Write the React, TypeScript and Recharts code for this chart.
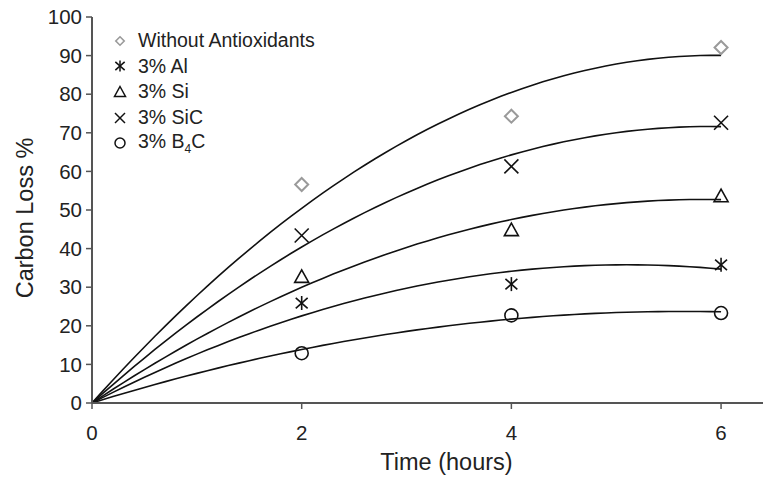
import React from 'react';
import { ComposedChart, Line, Scatter, XAxis, YAxis, Legend, Label } from 'recharts';

// measured points (time in hours, carbon loss %)
const hours = [2, 4, 6];
const withoutAntioxidants = [56.6, 74.3, 92.1];
const al3 = [25.9, 30.8, 35.8];
const si3 = [32.7, 44.8, 53.6];
const sic3 = [43.4, 61.3, 72.6];
const b4c3 = [12.9, 22.7, 23.3];

const xTicks = [0, 2, 4, 6];
const yTicks = [0, 10, 20, 30, 40, 50, 60, 70, 80, 90, 100];

const FONT = '"Liberation Sans", Arial, Helvetica, sans-serif';
const AXIS = '#555';

// trendline: least squares y = a*t + b*t^2, forced through the origin
const fitThroughOrigin = (ts: number[], ys: number[]) => {
  let s2 = 0, s3 = 0, s4 = 0, sy1 = 0, sy2 = 0;
  ts.forEach((t, i) => {
    s2 += t * t;
    s3 += t * t * t;
    s4 += t * t * t * t;
    sy1 += t * ys[i];
    sy2 += t * t * ys[i];
  });
  const det = s2 * s4 - s3 * s3;
  const a = (sy1 * s4 - s3 * sy2) / det;
  const b = (s2 * sy2 - s3 * sy1) / det;
  return { a, b };
};

const trend = (values: number[]) => {
  const { a, b } = fitThroughOrigin(hours, values);
  const last = hours[hours.length - 1];
  return Array.from({ length: 61 }, (_, i) => {
    const t = (last * i) / 60;
    return { t, v: a * t + b * t * t };
  });
};

const points = (values: number[]) => hours.map((t, i) => ({ t, v: values[i] }));

// marker shapes
const Diamond = ({ cx, cy, r = 6.5, sw = 2 }: any) => (
  <path d={`M${cx},${cy - r}L${cx + r},${cy}L${cx},${cy + r}L${cx - r},${cy}Z`} fill="none" stroke="#9a9a9a" strokeWidth={sw} />
);
const Star = ({ cx, cy, r = 7, sw = 1.6 }: any) => (
  <g stroke="#111" strokeWidth={sw}>
    <line x1={cx} y1={cy - r} x2={cx} y2={cy + r} />
    <line x1={cx - r * 0.85} y1={cy - r * 0.75} x2={cx + r * 0.85} y2={cy + r * 0.75} />
    <line x1={cx - r * 0.85} y1={cy + r * 0.75} x2={cx + r * 0.85} y2={cy - r * 0.75} />
  </g>
);
const Triangle = ({ cx, cy, r = 7, sw = 1.6 }: any) => (
  <path d={`M${cx},${cy - r}L${cx + r},${cy + r * 0.8}L${cx - r},${cy + r * 0.8}Z`} fill="none" stroke="#111" strokeWidth={sw} />
);
const Cross = ({ cx, cy, r = 7, sw = 1.6 }: any) => (
  <g stroke="#111" strokeWidth={sw}>
    <line x1={cx - r} y1={cy - r} x2={cx + r} y2={cy + r} />
    <line x1={cx - r} y1={cy + r} x2={cx + r} y2={cy - r} />
  </g>
);
const Ring = ({ cx, cy, r = 6.5, sw = 1.6 }: any) => (
  <circle cx={cx} cy={cy} r={r} fill="none" stroke="#111" strokeWidth={sw} />
);

const series = [
  { key: 'none', label: 'Without Antioxidants', values: withoutAntioxidants, Shape: Diamond, lr: 4.2 },
  { key: 'al', label: '3% Al', values: al3, Shape: Star, lr: 5.5 },
  { key: 'si', label: '3% Si', values: si3, Shape: Triangle, lr: 5.5 },
  { key: 'sic', label: '3% SiC', values: sic3, Shape: Cross, lr: 5 },
  { key: 'b4c', label: '3% B4C', values: b4c3, Shape: Ring, lr: 5 },
];

const renderLegend = () => (
  <div style={{ fontFamily: FONT, fontSize: 19.5, color: '#222' }}>
    {series.map(({ key, label, Shape, lr }) => (
      <div key={key} style={{ display: 'flex', alignItems: 'center', height: 25.6 }}>
        <svg width={24} height={20} style={{ marginRight: 6 }}>
          <Shape cx={12} cy={10} r={lr} sw={key === 'none' ? 1.6 : 1.5} />
        </svg>
        {key === 'b4c' ? (
          <span>
            3% B<sub style={{ fontSize: 12 }}>4</sub>C
          </span>
        ) : (
          <span>{label}</span>
        )}
      </div>
    ))}
  </div>
);

const renderYTitle = ({ viewBox }: any) => {
  const cx = viewBox.x + 25;
  const cy = viewBox.y + viewBox.height / 2 + 8;
  return (
    <text x={cx} y={cy} transform={`rotate(-90, ${cx}, ${cy})`} textAnchor="middle" dominantBaseline="central"
      fontFamily={FONT} fontSize={23.5} fill="#222">
      Carbon Loss %
    </text>
  );
};

const renderXTitle = ({ viewBox }: any) => (
  <text x={viewBox.x + viewBox.width / 2 + 19} y={viewBox.y + 67} textAnchor="middle"
    fontFamily={FONT} fontSize={23.5} fill="#222">
    Time (hours)
  </text>
);

export default function App() {
  return (
    <div style={{ position: 'absolute', left: 0, top: 0, background: '#fff' }}>
      <ComposedChart width={763} height={483} margin={{ top: 17, right: 0, bottom: 0, left: 0 }}>
        <XAxis
          type="number"
          dataKey="t"
          domain={[0, 6.4]}
          ticks={xTicks}
          height={80}
          allowDataOverflow
          tickLine={{ stroke: AXIS, strokeWidth: 1.5 }}
          axisLine={{ stroke: AXIS, strokeWidth: 2 }}
          tickSize={6}
          tickMargin={16}
          tick={{ fontFamily: FONT, fontSize: 20.5, fill: '#222' }}
        >
          <Label content={renderXTitle} />
        </XAxis>
        <YAxis
          type="number"
          dataKey="v"
          domain={[0, 100]}
          ticks={yTicks}
          width={92}
          allowDataOverflow
          tickLine={{ stroke: AXIS, strokeWidth: 1.5 }}
          axisLine={{ stroke: AXIS, strokeWidth: 2 }}
          tickSize={6}
          tickMargin={4}
          tick={{ fontFamily: FONT, fontSize: 20.5, fill: '#222' }}
        >
          <Label content={renderYTitle} />
        </YAxis>
        {series.map((s) => (
          <Line
            key={`line-${s.key}`}
            data={trend(s.values)}
            dataKey="v"
            type="linear"
            stroke="#111"
            strokeWidth={1.6}
            dot={false}
            activeDot={false}
            legendType="none"
            isAnimationActive={false}
          />
        ))}
        {series.map((s) => (
          <Scatter
            key={`pts-${s.key}`}
            name={s.label}
            data={points(s.values)}
            dataKey="v"
            shape={(p: any) => <s.Shape cx={p.cx} cy={p.cy} />}
            isAnimationActive={false}
          />
        ))}
        <Legend
          layout="vertical"
          align="center"
          verticalAlign="middle"
          content={renderLegend}
          wrapperStyle={{ left: 108, top: 28, width: 'auto', height: 'auto' }}
        />
      </ComposedChart>
    </div>
  );
}
